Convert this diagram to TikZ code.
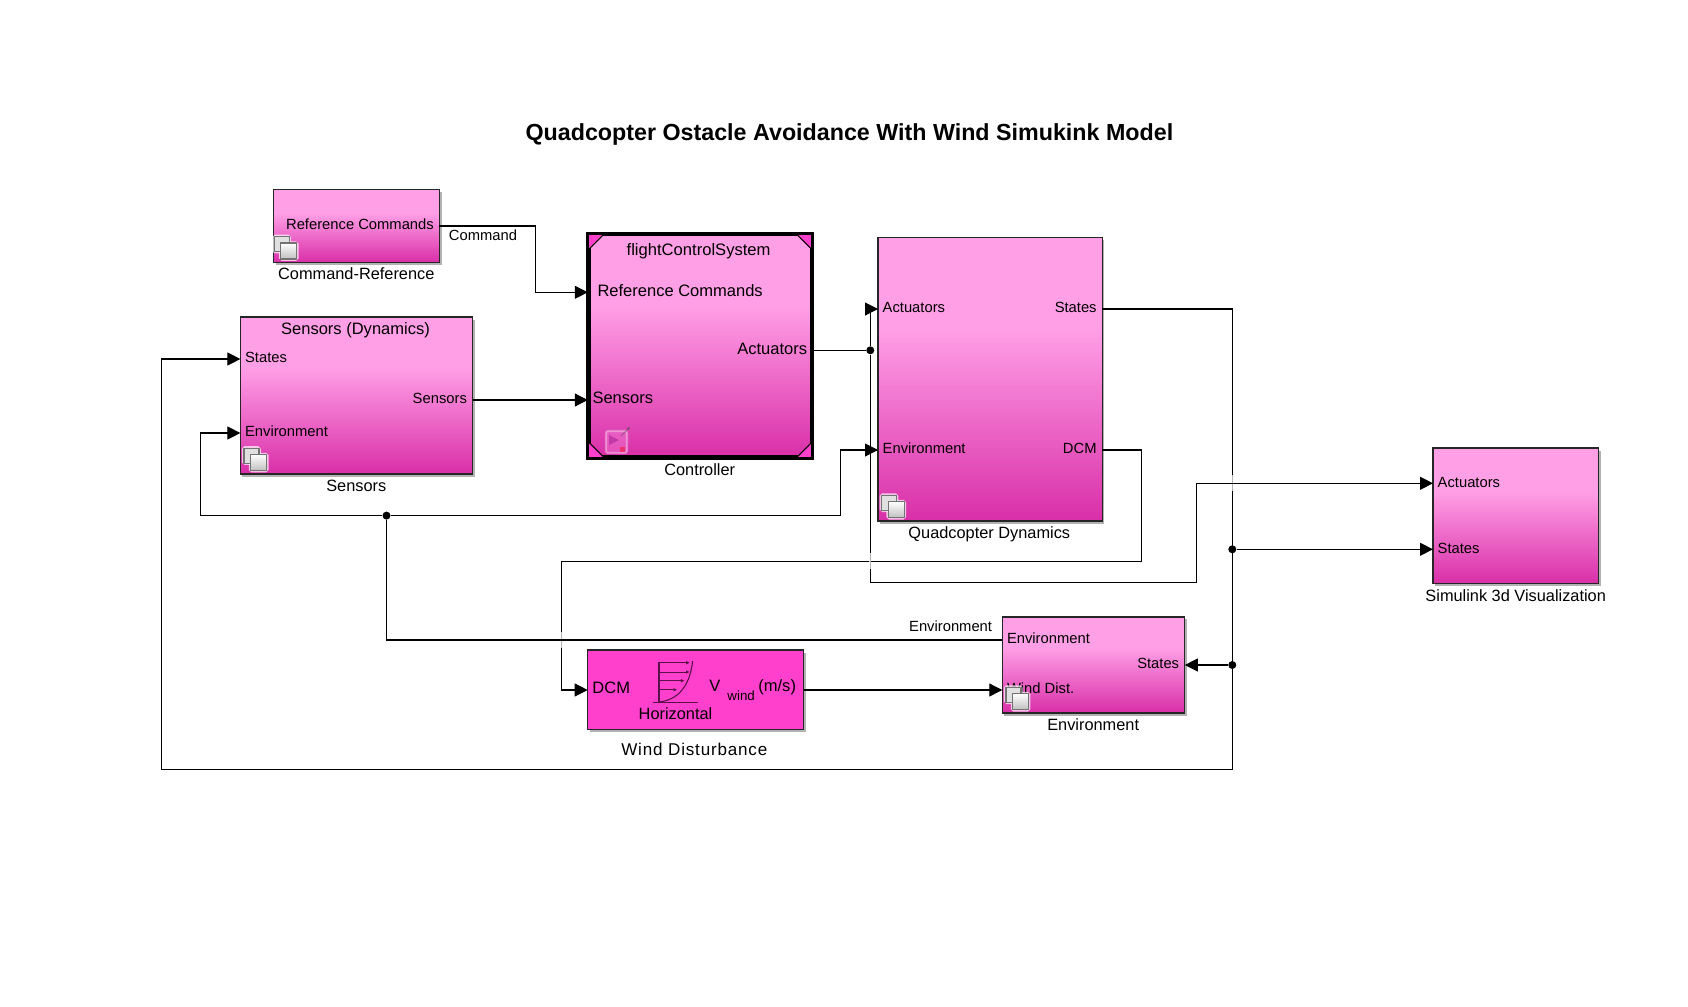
\documentclass[tikz,border=0pt]{standalone}
\usepackage{fontspec}
\setmainfont{Liberation Sans}
\usepackage{xcolor}
\usetikzlibrary{arrows.meta,shadows}

\definecolor{pinktop}{HTML}{FF9FE6}
\definecolor{pinkbot}{HTML}{D92FA8}
\definecolor{windpink}{HTML}{FF40CC}
\definecolor{windink}{HTML}{5A1048}
\pgfdeclareverticalshading{blockshade}{100bp}{color(0bp)=(pinkbot); color(25bp)=(pinkbot); color(59bp)=(pinktop); color(100bp)=(pinktop)}

\begin{document}
\begin{tikzpicture}[
    block/.style={draw=black!85, line width=.4pt, shading=blockshade, inner sep=0pt,
      drop shadow={shadow xshift=.02cm, shadow yshift=-.025cm, opacity=.3, fill=black}},
    port/.style={inner xsep=.04cm, inner ysep=0pt, text height=3.1pt, text depth=.9pt,
      font=\fontsize{4.2}{5}\selectfont},
    bigport/.style={port, font=\fontsize{4.7}{5.5}\selectfont},
    lab/.style={inner sep=0pt, font=\fontsize{4.65}{5.5}\selectfont},
    wire/.style={line width=.3pt, black},
    arr/.style={wire, -{Triangle[length=.13cm, width=.13cm]}},
    junc/.style={circle, fill=black, inner sep=0pt, minimum size=.08cm},
    hop/.style={white, opacity=.7, line width=.6pt},
    corner/.style={line width=.3pt, fill=windpink},
    pics/subsys/.style={code={
      \draw[white, opacity=.7, line width=.7pt, rounded corners=.5pt] (-.008,.008) rectangle (.155,-.155);
      \draw[white, opacity=.7, line width=.7pt, rounded corners=.5pt] (.06,-.058) rectangle (.232,-.23);
      \draw[black!55, fill=white!88!black, line width=.35pt] (0,0) rectangle (.15,-.15);
      \draw[black!55, top color=white, bottom color=black!25, line width=.35pt] (.066,-.064) rectangle (.226,-.224);
    }}
]
\useasboundingbox (0,0) rectangle (16.88,10.06);
\fill[white] (0,0) rectangle (16.88,10.06);

\node[inner sep=0pt, font=\fontsize{6.62}{8}\selectfont\bfseries] (title) at (8.494,8.72) {Quadcopter Ostacle Avoidance With Wind Simukink Model};

\node[block, minimum width=1.66cm, minimum height=.726cm] (cmdref) at (3.565,7.80) {};
\node[block, minimum width=2.322cm, minimum height=1.57cm] (sensors) at (3.565,6.105) {};
\node[block, line width=.85pt, draw=black, minimum width=2.22cm, minimum height=2.22cm] (ctrl) at (7.003,6.602) {};
\node[block, minimum width=2.243cm, minimum height=2.833cm] (quad) at (9.9015,6.2665) {};
\node[block, minimum width=1.656cm, minimum height=1.355cm] (sim) at (15.158,4.9025) {};
\node[block, minimum width=1.825cm, minimum height=.962cm] (env) at (10.935,3.411) {};
\node[block, shading=axis, top color=windpink, bottom color=windpink, minimum width=2.16cm, minimum height=.793cm] (wind) at (6.957,3.1635) {};

\draw[corner] (ctrl.north west) ++(.17,0) -- ++(-.17,-.17) -- (ctrl.north west) -- cycle;
\draw[corner] (ctrl.north east) ++(-.17,0) -- ++(.17,-.17) -- (ctrl.north east) -- cycle;
\draw[corner] (ctrl.south west) ++(.17,0) -- ++(-.17,.17) -- (ctrl.south west) -- cycle;
\draw[corner] (ctrl.south east) ++(-.17,0) -- ++(.17,.17) -- (ctrl.south east) -- cycle;
\draw[line width=.85pt] (ctrl.south west) rectangle (ctrl.north east);

\node[port, anchor=east] (cmdOut) at (4.385,7.80) {Reference Commands};

\node[inner sep=0pt, font=\fontsize{4.7}{5.5}\selectfont] (sensTitle) at (3.555,6.76) {Sensors (Dynamics)};
\node[port, anchor=west] (sensStates) at (2.404,6.47) {States};
\node[port, anchor=west] (sensEnv) at (2.404,5.73) {Environment};
\node[port, anchor=east, inner xsep=.05cm] (sensOut) at (4.726,6.06) {Sensors};

\node[inner sep=0pt, font=\fontsize{4.72}{5.5}\selectfont] (ctrlTitle) at (6.986,7.55) {flightControlSystem};
\node[bigport, anchor=west, inner xsep=.09cm] (ctrlRef) at (5.878,7.137) {Reference Commands};
\node[bigport, anchor=west, inner xsep=.04cm] (ctrlSens) at (5.878,6.06) {Sensors};
\node[bigport, anchor=east, inner xsep=.05cm] (ctrlAct) at (8.128,6.557) {Actuators};

\node[port, anchor=west] (qAct) at (8.78,6.97) {Actuators};
\node[port, anchor=west] (qEnv) at (8.78,5.56) {Environment};
\node[port, anchor=east, inner xsep=.05cm] (qStates) at (11.023,6.97) {States};
\node[port, anchor=east, inner xsep=.05cm] (qDcm) at (11.023,5.56) {DCM};

\node[port, anchor=west] (simAct) at (14.33,5.227) {Actuators};
\node[port, anchor=west] (simStates) at (14.33,4.567) {States};

\node[port, anchor=west] (envEnv) at (10.023,3.66) {Environment};
\node[port, anchor=east, inner xsep=.05cm] (envStates) at (11.848,3.41) {States};
\node[port, anchor=west] (envWind) at (10.023,3.16) {Wind Dist.};

\node[bigport, anchor=west] (windDcm) at (5.877,3.16) {DCM};
\node[bigport, anchor=east, inner xsep=.07cm] (windOut) at (8.037,3.16) {\raisebox{.8pt}{V}\hspace{2pt}\raisebox{-2pt}{\fontsize{3.8}{5}\selectfont wind}\hspace{1pt}\raisebox{.8pt}{(m/s)}};
\node[inner sep=0pt, font=\fontsize{4.65}{5.5}\selectfont] (windName) at (6.755,2.92) {Horizontal};

\draw[windink, line width=.3pt] (6.59,3.445) -- (6.59,3.043);
\draw[windink, line width=.5pt] (6.527,3.034) -- (6.983,3.034);
\draw[windink, line width=.3pt] (6.59,3.04) .. controls (6.78,3.06) and (6.90,3.2) .. (6.926,3.45);
\foreach \y/\e in {3.433/6.896,3.34/6.896,3.253/6.844,3.163/6.77}
  \draw[windink, line width=.25pt, -{Triangle[length=.035cm, width=.03cm]}] (6.59,\y) -- (\e,\y);

\pic at (2.441,5.578) {subsys};
\pic at (2.742,7.693) {subsys};
\pic at (8.817,5.107) {subsys};
\pic at (10.06,3.187) {subsys};

\draw[fill=pinktop, fill opacity=.3, draw=white, draw opacity=.35, line width=.6pt, rounded corners=.6pt] (6.06,5.75) rectangle (6.27,5.53);
\fill[violet, opacity=.35] (6.09,5.71) -- (6.19,5.66) -- (6.09,5.61) -- cycle;
\fill[red, opacity=.4] (6.195,5.59) rectangle (6.25,5.54);
\draw[black!70, opacity=.5, line width=.25pt, -{Triangle[length=.03cm, width=.03cm]}] (6.21,5.70) -- (6.3,5.79);

\node[lab] (cmdName) at (3.563,7.32) {Command-Reference};
\node[lab] (sensName) at (3.563,5.20) {Sensors};
\node[lab] (ctrlName) at (6.997,5.36) {Controller};
\node[lab] (quadName) at (9.893,4.72) {Quadcopter Dynamics};
\node[lab] (simName) at (15.157,4.10) {Simulink 3d Visualization};
\node[lab] (envName) at (10.932,2.815) {Environment};
\node[lab, font=\fontsize{4.85}{5.5}\selectfont\addfontfeature{LetterSpace=4.8}] (windLab) at (6.943,2.57) {Wind Disturbance};

\node[port, inner sep=0pt] (cmdWire) at (4.83,7.69) {Command};
\node[port, inner sep=0pt] (envWire) at (9.506,3.784) {Environment};

\coordinate (botR) at (12.323,2.367);
\coordinate (visT) at (11.967,4.237);
\node[junc] (dotAct) at (8.703,6.557) {};
\node[junc] (dotS) at (12.323,4.567) {};
\node[junc] (dotE) at (12.323,3.41) {};
\node[junc] (dotB) at (3.865,4.904) {};

\draw[arr] (qStates.east) -| (botR) -- (1.615,2.367) |- (sensStates.west);
\draw[wire] (dotAct) |- (visT);
\draw[arr] (qDcm.east) -| (11.417,4.447) -- (5.612,4.447) |- (windDcm.west);
\foreach \x/\y in {12.323/5.227,8.703/4.447,5.612/3.66}
  \draw[hop] (\x,\y-.08) -- (\x,\y+.08);

\draw[arr] (cmdOut.east) -- (5.355,7.80) |- (ctrlRef.west);
\draw[arr] (sensOut.east) -- (ctrlSens.west);
\draw[wire] (ctrlAct.east) -- (dotAct);
\draw[arr] (dotAct) |- (qAct.west);
\draw[arr] (visT) |- (simAct.west);
\draw[arr] (dotS) -- (simStates.west);
\draw[arr] (dotE) -- (envStates.east);
\draw[arr] (dotB) -- (2.003,4.904) |- (sensEnv.west);
\draw[arr] (dotB) -- (8.408,4.904) |- (qEnv.west);
\draw[wire] (envEnv.west) -| (dotB);
\draw[arr] (windOut.east) -- (envWind.west);
\end{tikzpicture}
\end{document}
